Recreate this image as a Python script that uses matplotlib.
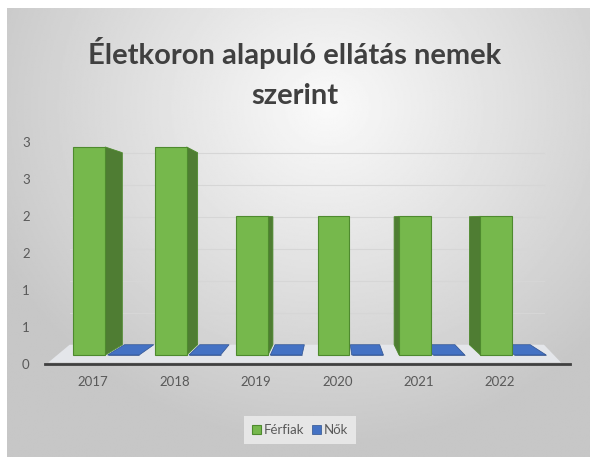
import numpy as np
import matplotlib.pyplot as plt
from matplotlib.patches import Polygon

plt.rcParams['font.family'] = ['Lato', 'DejaVu Sans']

years = ['2017', '2018', '2019', '2020', '2021', '2022']
ferfiak = [3, 3, 2, 2, 2, 2]
nok = [0, 0, 0, 0, 0, 0]
y_ticks = [0, 0.5, 1, 1.5, 2, 2.5, 3]

# fake 3D view (perspective towards a vanishing point)
VX, VY = 2.95, 1.93
S_FRONT, S_BACK = 0.937, 0.865
X_DEPTH = 0.925
BAR_W = 0.39
GREEN, GREEN_SIDE, GREEN_EDGE = '#76b84c', '#4f7d33', '#4e8a2e'
BLUE, BLUE_EDGE = '#4472c4', '#2f528f'


def fy(v, s):
    return VY + (np.asarray(v, dtype=float) - VY) * s


def bx(x):
    return VX + (np.asarray(x, dtype=float) - VX) * X_DEPTH


fig = plt.figure(figsize=(5.9, 4.57), dpi=100)
fig.patch.set_facecolor('white')

# gradient background
bg = fig.add_axes([7 / 590, 0, 583 / 590, 449 / 457])
yy, xx = np.mgrid[0:1:300j, 0:1:400j]
r = np.sqrt(((xx - 0.55) / 0.75) ** 2 + ((yy - 0.22) / 0.9) ** 2)
shade = np.clip(0.98 - 0.24 * r, 0.78, 1)
bg.imshow(shade, cmap='gray', vmin=0, vmax=1, extent=[0, 1, 1, 0], aspect='auto')
bg.axis('off')

ax = fig.add_axes([45 / 590, 1 - 364 / 457, 525 / 590, 3.2 * 74 / 457])
ax.patch.set_alpha(0)
ax.set_xlim(-0.59, 5.86)
ax.set_ylim(0, 3.2)

x = np.arange(len(years))
xg = x - 0.045
xb = xg + 0.418

# floor
fl, fr = -0.55, 5.75
ax.add_patch(Polygon([(fl, 0.02), (fr, 0.02), (bx(fr), fy(0, S_BACK)), (bx(fl), fy(0, S_BACK))],
                     closed=True, facecolor='#e4e6ea', edgecolor='none', zorder=1))

# back wall gridlines
for v in y_ticks[1:]:
    ax.plot([bx(fl), bx(fr)], [fy(v, S_BACK)] * 2, color='#d6d6d6', lw=0.8, zorder=1)

# Nők: zero-height bars -> only the top face shows
for xc, v in zip(xb, nok):
    l, rr = xc - BAR_W / 2, xc + BAR_W / 2
    ax.add_patch(Polygon([(l, fy(v, S_FRONT)), (rr, fy(v, S_FRONT)),
                          (bx(rr), fy(v, S_BACK)), (bx(l), fy(v, S_BACK))],
                         closed=True, facecolor=BLUE, edgecolor=BLUE_EDGE, lw=0.5, zorder=2))

# Férfiak: front faces
base = fy(0, S_FRONT)
ax.bar(xg, fy(ferfiak, S_FRONT) - base, bottom=base, width=BAR_W, color=GREEN,
       edgecolor=GREEN_EDGE, lw=0.8, zorder=4, label='Férfiak')
ax.bar(xb, fy(nok, S_FRONT) - base, bottom=base, width=BAR_W, color=BLUE,
       edgecolor=BLUE_EDGE, lw=0.5, zorder=2, label='Nők')

# side faces
for xc, v in zip(xg, ferfiak):
    l, rr = xc - BAR_W / 2, xc + BAR_W / 2
    e = rr if rr < VX else l
    if l < VX < rr:
        continue
    ax.add_patch(Polygon([(e, fy(0, S_FRONT)), (e, fy(v, S_FRONT)),
                          (bx(e), fy(v, S_BACK)), (bx(e), fy(0, S_BACK))],
                         closed=True, facecolor=GREEN_SIDE, edgecolor=GREEN_EDGE, lw=0.6, zorder=3))

for s in ['top', 'right', 'left']:
    ax.spines[s].set_visible(False)
ax.spines['bottom'].set_color('#404040')
ax.spines['bottom'].set_linewidth(2)
ax.spines['bottom'].set_zorder(5)

ax.set_xticks(x, labels=years)
ax.set_yticks(y_ticks, labels=[str(int(v + 0.5)) for v in y_ticks])
ax.tick_params(axis='both', length=0, labelsize=9.5, labelcolor='#595959')
ax.tick_params(axis='x', pad=9)
ax.tick_params(axis='y', pad=11)

fig.text(0.5, 1 - 73 / 457, 'Életkoron alapuló ellátás nemek\nszerint', ha='center', va='center',
         fontsize=21, fontweight='bold', color='#404040', linespacing=1.7)

leg = fig.legend(loc='center', bbox_to_anchor=(300 / 590, 1 - 430 / 457), ncol=2, fontsize=9.5,
                 frameon=True, facecolor='#e6e6e6', edgecolor='none', framealpha=1,
                 handlelength=0.7, handleheight=0.7, handletextpad=0.2, columnspacing=0.6,
                 borderpad=0.6, fancybox=False)
for t in leg.get_texts():
    t.set_color('#595959')

fig.savefig('out.png', dpi=100)
